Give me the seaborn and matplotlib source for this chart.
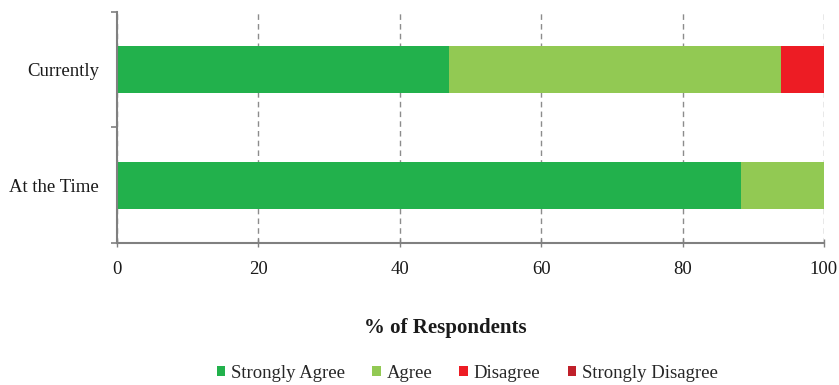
import matplotlib
matplotlib.use("Agg")
import matplotlib.pyplot as plt
from matplotlib.patches import Patch
import numpy as np
import pandas as pd
import seaborn as sns

categories = ["Currently", "At the Time"]
responses = ["Strongly Agree", "Agree", "Disagree", "Strongly Disagree"]
strongly_agree = [47.0, 88.3]
agree = [47.0, 11.7]
disagree = [6.0, 0.0]
strongly_disagree = [0.0, 0.0]
colors = ["#22B14C", "#92C953", "#ED1C24", "#C0202A"]

sns.set_style("white")
plt.rcParams["font.family"] = ["Liberation Serif", "DejaVu Serif"]

df = pd.DataFrame({
    "category": categories,
    "Strongly Agree": strongly_agree,
    "Agree": agree,
    "Disagree": disagree,
    "Strongly Disagree": strongly_disagree,
})
cum = df[responses].cumsum(axis=1)

fig = plt.figure(figsize=(8.39, 3.85), dpi=100)
ax = fig.add_axes([0.1395, 0.369, 0.8425, 0.6])

# stack by drawing cumulative totals, largest first
for resp, col in reversed(list(zip(responses, colors))):
    sns.barplot(x=cum[resp], y=df["category"], color=col, width=0.41,
                linewidth=0, saturation=1, ax=ax, orient="h", zorder=2)

ax.set_xlim(0, 100)
ax.set_ylim(1.5, -0.5)
ax.set_xticks(np.arange(0, 101, 20))
ax.set_yticks([-0.5, 0.5, 1.5], minor=True)
ax.tick_params(axis="y", which="major", length=0, pad=13, labelsize=13.5, colors="#1a1a1a")
ax.tick_params(axis="y", which="minor", length=4, width=1.2, color="#808080", left=True)
ax.tick_params(axis="x", which="major", length=6, width=1, color="#808080",
               direction="inout", pad=10, labelsize=13.5, labelcolor="#1a1a1a", bottom=True)

ax.xaxis.grid(True, linestyle=(0, (4, 3)), color="#8c8c8c", linewidth=1, zorder=0)
ax.set_axisbelow(True)
for side in ["top", "right"]:
    ax.spines[side].set_visible(False)
for side in ["left", "bottom"]:
    ax.spines[side].set_color("#808080")
    ax.spines[side].set_linewidth(1.5)

ax.set_ylabel("")
ax.set_xlabel("% of Respondents", fontsize=15, fontweight="bold", labelpad=26, color="#1a1a1a")
ax.xaxis.set_label_coords(0.445, -0.5)
ax.xaxis.label.set_verticalalignment("center")
ax.xaxis.label.set_position((0.0, 0.0))
ax.xaxis.label.set_transform(fig.transFigure)
ax.xaxis.label.set_x(445 / 839)
ax.xaxis.label.set_y(1 - 328 / 385)

handles = [Patch(facecolor=c, edgecolor="none") for c in colors]
fig.legend(handles, responses, loc="center", bbox_to_anchor=(0.557, 1 - 373 / 385), ncol=4,
           frameon=False, fontsize=13.5, handlelength=0.45, handleheight=0.45,
           handletextpad=0.32, columnspacing=1.44)

fig.savefig("out.png", dpi=100)
